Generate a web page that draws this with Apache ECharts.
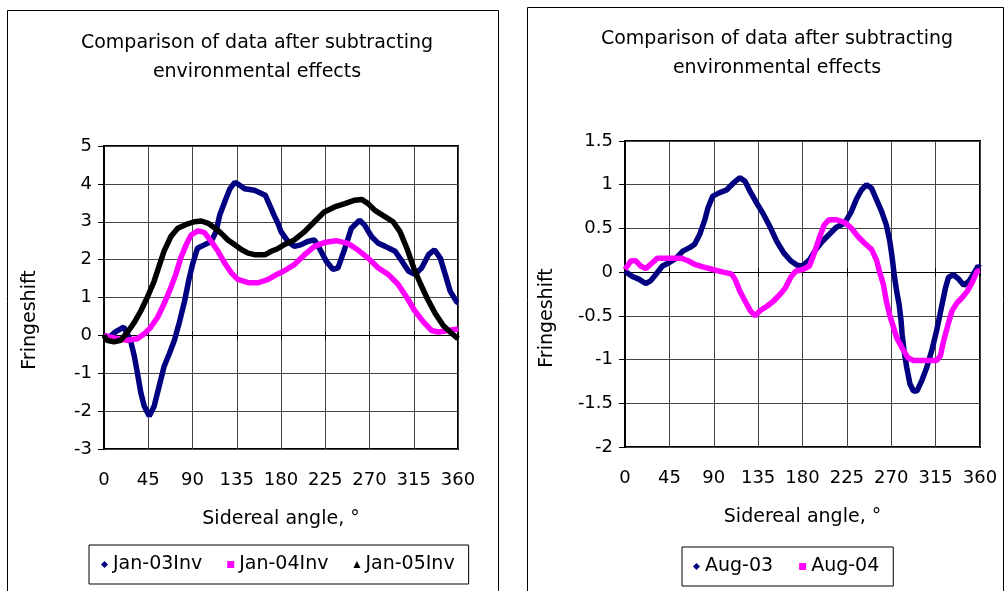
<!DOCTYPE html>
<html><head><meta charset="utf-8">
<script src="https://cdn.jsdelivr.net/npm/echarts@6/dist/echarts.min.js"></script>
<style>html,body{margin:0;padding:0;background:#fff}#c{width:1008px;height:591px}</style>
</head><body><div id="c"></div>
<script>
// ---- data (angle in degrees, fringeshift) ----
const xTickInterval = 45;
const leftY = {min: -3, max: 5, interval: 1};
const rightY = {min: -2, max: 1.5, interval: 0.5};
const leftNames = ['Jan-03Inv', 'Jan-04Inv', 'Jan-05Inv'];
const rightNames = ['Aug-03', 'Aug-04'];

const jan03 = [[0,0],[5,-0.05],[12,0.1],[20,0.22],[27,-0.13],[31,-0.57],[34,-1.0],[37.5,-1.52],[41,-1.87],[46,-2.13],[51,-1.87],[56,-1.35],[61,-0.83],[66.5,-0.48],[71.6,-0.13],[76.7,0.35],[82,0.91],[86,1.43],[90,1.87],[95,2.3],[102,2.39],[109,2.48],[114,2.74],[117.6,3.17],[122.7,3.52],[128,3.87],[133,4.04],[136,4.0],[143,3.87],[153,3.83],[164,3.7],[170,3.35],[173,3.17],[177,2.95],[180,2.74],[187,2.48],[193.6,2.35],[200,2.39],[207,2.48],[214,2.52],[219,2.3],[226,1.96],[233,1.74],[238,1.78],[245,2.3],[251.6,2.83],[260,3.04],[265,2.91],[272,2.61],[279,2.43],[286,2.35],[296,2.22],[303,1.96],[309.5,1.7],[316,1.61],[323,1.78],[330,2.13],[336,2.26],[342,2.04],[347,1.61],[352,1.17],[359,0.87],[360,0.87]];
const jan04 = [[0,0],[7,-0.05],[13.6,-0.09],[24,-0.13],[34,-0.09],[41,0.04],[47.7,0.22],[54.5,0.48],[61,0.83],[68,1.26],[73,1.61],[78,2.04],[83.5,2.39],[88.6,2.65],[95.5,2.76],[102,2.72],[109,2.48],[116,2.22],[122.7,1.91],[129.5,1.65],[136,1.48],[146.6,1.39],[157,1.39],[167,1.48],[175,1.6],[183,1.7],[193.6,1.87],[204,2.13],[214,2.35],[224,2.45],[236,2.5],[248,2.43],[258,2.26],[268.6,2.04],[279,1.78],[289,1.61],[299,1.35],[308,1.0],[316,0.65],[325,0.35],[333,0.13],[340,0.09],[350,0.13],[360,0.17]];
const jan05 = [[0,0],[3,-0.13],[10,-0.17],[17,-0.13],[24,0.09],[31,0.35],[37.5,0.65],[44,1.0],[51,1.43],[56,1.83],[61,2.22],[68,2.61],[75,2.83],[83.5,2.93],[92,3.0],[99,3.02],[106,2.96],[113,2.83],[119,2.7],[126,2.52],[133,2.39],[140,2.26],[146.6,2.17],[153,2.13],[164,2.13],[170,2.22],[176,2.28],[183,2.39],[193.6,2.52],[204,2.74],[214,3.0],[224,3.26],[234.5,3.39],[245,3.48],[255,3.57],[262,3.59],[268.6,3.48],[275.5,3.3],[286,3.13],[294,3.0],[301,2.74],[308,2.3],[315,1.78],[322,1.35],[329,0.96],[337,0.57],[345,0.26],[352,0.09],[360,-0.09]];
const aug03 = [[0,0.01],[7.5,-0.05],[14,-0.08],[21,-0.13],[26,-0.10],[31,-0.03],[38,0.07],[45,0.11],[52,0.16],[58.6,0.24],[65.5,0.28],[70.6,0.32],[75.7,0.43],[81,0.6],[84,0.73],[89,0.87],[96,0.91],[103,0.94],[110,1.02],[116.6,1.08],[121.7,1.04],[127,0.92],[133.6,0.79],[140.5,0.66],[147,0.52],[154,0.35],[161,0.22],[168,0.13],[174.5,0.08],[180,0.07],[187,0.14],[193.6,0.26],[200,0.35],[207,0.43],[214,0.51],[222.6,0.56],[229,0.68],[234.5,0.83],[239.7,0.94],[245,1.0],[250,0.96],[255,0.83],[260,0.7],[265,0.54],[268.6,0.35],[271,0.16],[273,-0.03],[275.5,-0.22],[278,-0.37],[280,-0.56],[281,-0.71],[283,-0.9],[285.7,-1.09],[289,-1.28],[292.5,-1.36],[296,-1.36],[301,-1.24],[306,-1.09],[311,-0.9],[316,-0.67],[321.5,-0.37],[325,-0.18],[328,-0.06],[333,-0.03],[338.5,-0.08],[343.6,-0.15],[349,-0.10],[354,-0.01],[358,0.07],[360,0.05]];
const aug04 = [[0,0.03],[6,0.13],[11,0.13],[16,0.07],[21,0.04],[26,0.09],[33,0.16],[40,0.16],[48,0.16],[57,0.16],[64,0.13],[70.6,0.09],[79,0.06],[89,0.03],[99.5,0.0],[108,-0.02],[111.5,-0.08],[116.6,-0.22],[121.7,-0.33],[127,-0.44],[132,-0.5],[137,-0.44],[144,-0.39],[150.7,-0.33],[157.5,-0.25],[162.6,-0.18],[168,-0.06],[173,0.01],[180,0.03],[187,0.07],[192,0.22],[197,0.39],[202,0.54],[207,0.6],[214,0.6],[222.6,0.57],[229,0.51],[236,0.41],[243,0.33],[250,0.26],[255,0.14],[258,0.01],[262,-0.14],[265,-0.33],[268.6,-0.5],[272,-0.62],[275.5,-0.75],[280.6,-0.86],[287,-0.98],[292.5,-1.01],[301,-1.01],[309.5,-1.01],[316,-1.01],[319.8,-0.96],[323,-0.79],[327.6,-0.6],[331.7,-0.44],[336.8,-0.35],[342,-0.29],[347,-0.22],[352,-0.12],[357,0.01],[360,0.02]];

const titleText = 'Comparison of data after subtracting\nenvironmental effects';
const xName = 'Sidereal angle, \u00b0';
const yName = 'Fringeshift';

// ---- styling ----
const FONT = 'DejaVu Sans';
const NAVY = '#000080', MAG = '#FF00FF', BLK = '#000000';
const GRIDC = '#444';

function xAxesFor(g, yIdx) {
  const base = {gridIndex: g, type: 'value', min: 0, max: 360, interval: xTickInterval};
  return [
    Object.assign({}, base, {
      position: 'bottom',
      axisLine: {show: false, onZero: false},
      axisTick: {show: false},
      axisLabel: {margin: 22, fontSize: 18, color: '#000', fontFamily: FONT},
      splitLine: {show: true, lineStyle: {color: GRIDC, width: 1}},
      name: xName, nameLocation: 'middle', nameGap: 61,
      nameTextStyle: {fontSize: 19, color: '#000', fontFamily: FONT}
    }),
    Object.assign({}, base, {
      position: 'bottom',
      axisLine: {show: true, onZero: true, onZeroAxisIndex: yIdx, lineStyle: {color: '#000', width: 1}},
      axisTick: {show: true, inside: false, length: 4, lineStyle: {color: '#000'}},
      axisLabel: {show: false}, splitLine: {show: false}
    }),
    Object.assign({}, base, {
      position: 'bottom',
      axisLine: {show: false, onZero: true, onZeroAxisIndex: yIdx},
      axisTick: {show: true, inside: true, length: 4, lineStyle: {color: '#000'}},
      axisLabel: {show: false}, splitLine: {show: false}
    })
  ];
}
function yAxisFor(g, r) {
  return {
    gridIndex: g, type: 'value', min: r.min, max: r.max, interval: r.interval,
    axisLine: {show: true, onZero: false, lineStyle: {color: '#000', width: 2}},
    axisTick: {show: true, inside: false, length: 6, lineStyle: {color: '#000'}},
    axisLabel: {margin: 12, fontSize: 18, color: '#000', fontFamily: FONT},
    splitLine: {show: true, lineStyle: {color: GRIDC, width: 1}}
  };
}
function lineSeries(name, data, color, symbol, xi, yi) {
  return {
    name, type: 'line', data, xAxisIndex: xi, yAxisIndex: yi,
    symbol, showSymbol: false, smooth: false,
    lineStyle: {color, width: 5.5}, itemStyle: {color},
    emphasis: {disabled: true}
  };
}

const chart = echarts.init(document.getElementById('c'), null, {renderer: 'canvas'});
chart.setOption({
  animation: false,
  backgroundColor: '#fff',
  graphic: [
    {type: 'rect', shape: {x: 7.5, y: 10.5, width: 491, height: 600}, style: {fill: null, stroke: '#000', lineWidth: 1}, z: -1, silent: true},
    {type: 'rect', shape: {x: 527.5, y: 7.5, width: 476, height: 600}, style: {fill: null, stroke: '#000', lineWidth: 1}, z: -1, silent: true},
    {type: 'text', x: 30, y: 320, rotation: Math.PI / 2, style: {text: yName, fontSize: 19, fontFamily: FONT, fill: '#000', align: 'center', verticalAlign: 'middle'}, silent: true},
    {type: 'text', x: 547, y: 318, rotation: Math.PI / 2, style: {text: yName, fontSize: 19, fontFamily: FONT, fill: '#000', align: 'center', verticalAlign: 'middle'}, silent: true}
  ],
  title: [
    {text: titleText, left: 257, top: 29, textAlign: 'center', padding: 0,
     textStyle: {fontSize: 19, fontWeight: 'normal', color: '#000', fontFamily: FONT, lineHeight: 29}},
    {text: titleText, left: 777, top: 25, textAlign: 'center', padding: 0,
     textStyle: {fontSize: 19, fontWeight: 'normal', color: '#000', fontFamily: FONT, lineHeight: 29}}
  ],
  legend: [
    {left: 89, top: 545, orient: 'horizontal', itemWidth: 7, itemHeight: 7, itemGap: 25,
     padding: [10, 14, 10, 12], borderColor: '#000', borderWidth: 1,
     data: [{name: leftNames[0], icon: 'diamond'}, {name: leftNames[1], icon: 'rect'}, {name: leftNames[2], icon: 'triangle'}],
     textStyle: {fontSize: 19, color: '#000', fontFamily: FONT}},
    {left: 682, top: 547, orient: 'horizontal', itemWidth: 7, itemHeight: 7, itemGap: 26,
     padding: [10, 14, 10, 11], borderColor: '#000', borderWidth: 1,
     data: [{name: rightNames[0], icon: 'diamond'}, {name: rightNames[1], icon: 'rect'}],
     textStyle: {fontSize: 19, color: '#000', fontFamily: FONT}}
  ],
  grid: [
    {left: 104, top: 146, width: 354, height: 303, show: true, borderColor: '#000', borderWidth: 2, backgroundColor: '#fff'},
    {left: 625, top: 141, width: 355, height: 306, show: true, borderColor: '#000', borderWidth: 2, backgroundColor: '#fff'}
  ],
  xAxis: xAxesFor(0, 0).concat(xAxesFor(1, 1)),
  yAxis: [yAxisFor(0, leftY), yAxisFor(1, rightY)],
  series: [
    lineSeries(leftNames[0], jan03, NAVY, 'diamond', 0, 0),
    lineSeries(leftNames[1], jan04, MAG, 'rect', 0, 0),
    lineSeries(leftNames[2], jan05, BLK, 'triangle', 0, 0),
    lineSeries(rightNames[0], aug03, NAVY, 'diamond', 3, 1),
    lineSeries(rightNames[1], aug04, MAG, 'rect', 3, 1)
  ]
});
</script>
</body></html>
